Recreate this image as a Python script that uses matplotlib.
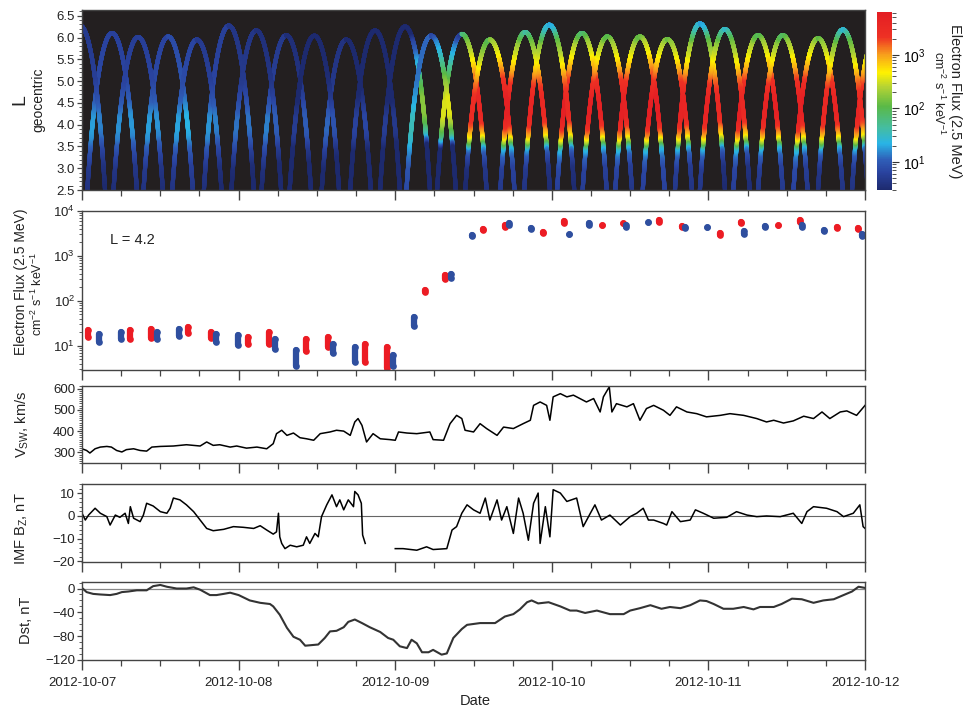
import numpy as np
import pandas as pd
import matplotlib
matplotlib.use("Agg")
import matplotlib.pyplot as plt
import matplotlib.dates as mdates
from matplotlib.colors import LinearSegmentedColormap, LogNorm
from matplotlib.ticker import MultipleLocator, LogLocator, NullFormatter, FormatStrFormatter

plt.rcParams['font.family'] = ['Liberation Sans', 'DejaVu Sans']
plt.rcParams['mathtext.fontset'] = 'custom'
plt.rcParams['mathtext.rm'] = 'Liberation Sans'
plt.rcParams['mathtext.it'] = 'Liberation Sans:italic'

start = pd.Timestamp('2012-10-07')
t0 = mdates.date2num(start.to_pydatetime())

# ---- orbit apogees (hours after 2012-10-07 00:00) and apogee L, probe A / probe B
apo_a_hr = [-0.3, 8.6, 17.6, 26.7, 35.6, 44.9, 53.5, 62.5, 71.6, 80.5, 89.7, 98.5, 107.4, 116.6, 125.6]
apo_a_L = [6.27, 6.01, 5.95, 6.16, 6.04, 6.16, 6.04, 5.95, 6.29, 6.02, 5.96, 6.19, 6.05, 6.18, 6.05]
apo_b_hr = [-4.4, 4.6, 13.2, 22.5, 31.3, 40.5, 49.5, 58.2, 67.9, 76.6, 85.5, 94.7, 103.6, 112.8, 121.8]
apo_b_L = [6.1, 6.1, 6.02, 6.27, 6.05, 5.95, 6.25, 6.08, 6.12, 6.1, 6.02, 6.32, 6.05, 5.98, 6.1]
PERIOD = 9.0
L_PERIGEE = 1.1

# radial flux profiles relative to the value at L = 4.2
quiet_L = [2.5, 3.0, 3.4, 3.7, 3.9, 4.2, 4.6, 5.0, 5.5, 6.0, 6.5]
quiet_rel = [0.2, 0.25, 0.45, 0.85, 1.0, 0.95, 0.55, 0.38, 0.35, 0.33, 0.33]
storm_L = [2.5, 3.0, 3.3, 3.45, 3.6, 3.75, 4.0, 4.2, 4.6, 5.0, 5.3, 5.6, 5.9, 6.2, 6.5]
storm_rel = [0.001, 0.0012, 0.0025, 0.005, 0.04, 0.18, 0.6, 1.0, 1.0, 0.45, 0.18, 0.08, 0.04, 0.008, 0.004]

# ---- electron flux at L = 4.2 (blue = probe A, red = probe B), low / high of each pass
blue_hr = [2.6, 6.0, 11.5, 14.9, 20.5, 23.9, 29.6, 32.8, 38.5, 41.8, 47.7, 50.9, 56.6, 59.8,
           65.4, 68.8, 74.6, 77.7, 83.4, 86.7, 92.4, 95.8, 101.5, 104.7, 110.3, 113.7, 119.5]
blue_lo = [12.1, 14.1, 14.1, 16.7, 11.9, 10.3, 8.7, 3.6, 7.0, 4.3, 3.6, 27.8, 330, 2770,
           5000, 3900, 3050, 5000, 4300, 5600, 4100, 4300, 3100, 4300, 4500, 3500, 2800]
blue_hi = [18.2, 20.1, 20.8, 23.4, 18.5, 17.0, 14.3, 7.9, 11.0, 9.3, 6.4, 44.8, 400, 2970,
           5300, 4100, 3150, 5300, 4800, 5800, 4300, 4500, 3500, 4600, 4800, 3800, 3000]
red_hr = [0.9, 7.4, 10.6, 16.2, 19.8, 25.4, 28.7, 34.3, 37.7, 43.4, 46.7, 52.6, 55.6, 61.5,
          64.8, 70.7, 73.9, 79.7, 82.9, 88.4, 92.0, 97.8, 101.0, 106.7, 110.0, 115.7, 118.9]
red_lo = [16.1, 14.1, 15.3, 19.8, 14.8, 10.9, 10.9, 7.7, 9.2, 4.3, 3.2, 158, 303, 3700,
          4500, 3200, 5500, 4800, 5300, 5800, 4400, 2900, 5300, 4800, 5800, 4100, 3900]
red_hi = [22.7, 22.7, 23.9, 26.0, 20.8, 16.1, 20.0, 14.3, 15.6, 11.0, 9.3, 176, 385, 3900,
          4800, 3400, 5900, 5000, 5500, 6200, 4600, 3300, 5600, 5000, 6300, 4400, 4200]

# ---- solar wind speed
vsw_hr = [0.0, 0.7, 1.2, 2.0, 2.8, 3.8, 4.5, 5.3, 6.1, 6.8, 7.9, 8.9, 9.9, 10.7, 12.0, 14.0, 16.0,
          18.1, 19.1, 20.1, 21.1, 22.7, 23.7, 25.2, 26.8, 28.3, 29.3, 29.8, 30.6, 31.4, 32.4, 33.4,
          34.4, 35.5, 36.5, 38.0, 39.0, 40.1, 41.1, 41.8, 42.3, 42.9, 43.6, 44.6, 45.7, 47.2, 48.0,
          48.5, 49.8, 51.3, 53.3, 53.8, 55.4, 56.4, 57.4, 58.2, 58.7, 60.0, 61.0, 62.0, 63.6, 64.6,
          66.1, 67.6, 68.7, 69.2, 70.2, 71.2, 71.7, 72.2, 73.3, 74.3, 75.3, 76.3, 77.3, 78.4, 79.4,
          79.9, 80.8, 81.2, 81.9, 83.5, 84.5, 85.5, 86.5, 87.6, 89.1, 90.1, 91.1, 92.7, 94.2, 95.7,
          97.8, 99.3, 101.4, 103.4, 104.9, 106.0, 107.5, 109.0, 110.6, 112.1, 113.4, 114.6, 116.2,
          117.2, 118.7, 120.0]
vsw = [317, 309, 297, 317, 325, 328, 325, 309, 302, 313, 317, 309, 306, 325, 328, 330, 336,
       330, 349, 333, 336, 325, 330, 320, 325, 317, 341, 388, 404, 380, 391, 369,
       364, 357, 388, 396, 404, 400, 380, 443, 459, 427, 349, 388, 364, 360, 357,
       396, 391, 388, 396, 360, 357, 435, 474, 459, 404, 396, 435, 412, 380, 419,
       412, 435, 451, 521, 537, 521, 451, 561, 576, 561, 569, 553, 537, 553, 490,
       561, 608, 490, 529, 514, 529, 451, 506, 521, 498, 474, 514, 490, 482, 467,
       474, 482, 474, 459, 443, 451, 438, 448, 470, 459, 490, 459, 490,
       495, 474, 521]

# ---- IMF Bz (NaN = data gap)
bz_hr = [0.0, 0.5, 1.0, 1.5, 2.0, 2.8, 3.8, 4.3, 5.1, 5.8, 6.6, 7.1, 7.4, 7.9, 8.9, 9.4, 9.9,
         10.9, 12.0, 13.0, 13.5, 14.0, 15.0, 16.0, 17.1, 18.1, 19.1, 20.1, 21.7, 23.2, 24.7, 26.3,
         27.3, 28.3, 29.3, 29.8, 30.1, 30.3, 30.6, 31.1, 31.9, 32.9, 33.9, 34.4, 34.9, 35.7, 36.2,
         36.7, 37.5, 38.3, 39.0, 39.5, 40.1, 40.8, 41.6, 41.8, 42.3, 42.8, 43.0, 43.4, 45.5,
         48.0, 49.2, 51.3, 52.8, 53.8, 55.9, 56.7, 57.4, 58.2, 59.0, 60.0, 61.0, 61.8, 62.5,
         63.6, 64.3, 65.1, 66.1, 66.9, 67.6, 68.4, 69.2, 69.9, 70.2, 71.0, 71.7, 72.2, 73.3, 74.3,
         75.8, 76.8, 77.9, 78.6, 79.6, 80.9, 82.5, 84.0, 85.0, 86.0, 86.8, 87.6, 89.1, 89.6, 90.4,
         91.7, 93.2, 94.0, 95.2, 96.8, 98.8, 100.3, 101.9, 103.4, 104.9, 107.0, 109.0, 110.3,
         111.1, 112.1, 114.1, 115.7, 116.7, 118.2, 119.2, 119.7, 120.0]
bz = [1.2, -1.8, 0.4, 1.9, 3.4, 1.2, -0.3, -4.0, 0.4, -0.6, 1.2, -3.3, 4.1, -1.0, -2.5, 0.4, 5.6,
      4.4, 1.9, 1.2, 3.4, 7.9, 7.1, 4.9, 1.9, -1.8, -5.5, -6.5, -5.9, -4.7, -5.0, -5.5,
      -4.3, -6.2, -8.0, -7.0, 1.2, -9.2, -12.1, -14.4, -12.9, -13.6, -12.9, -9.2, -12.1, -7.7, -9.2,
      -0.3, 4.9, 9.3, 4.1, 7.1, 2.7, 7.1, 4.1, 10.8, 9.3, 5.6, -8.4, -12.1, np.nan,
      -14.4, -14.4, -15.1, -13.6, -14.8, -14.4, -6.2, -4.7, 1.2, 4.9, 2.7, 1.2, 7.9, -1.8,
      7.1, -1.8, 4.1, -7.7, 7.9, 1.2, -10.7, 5.6, 10.1, -12.1, 4.1, -9.2, 11.6, 10.1, 6.4,
      7.9, -4.7, 1.2, 4.9, -1.8, 0.4, -4.0, -0.3, 1.2, 3.4, -1.8, -1.8, -3.3, -4.0, 1.9,
      -2.5, -1.8, 2.7, 1.2, -1.0, -0.6, 1.9, 0.4, -0.3, 0.0, -0.3, 1.2, -3.3,
      1.9, 4.1, 3.4, 1.9, -0.3, 1.2, 4.9, -4.7, -5.5]

# ---- Dst
dst_hr = [0.0, 0.7, 1.7, 2.8, 4.3, 5.3, 6.1, 7.1, 8.4, 9.9, 10.9, 12.0, 13.0, 14.5, 16.0, 17.1,
          18.1, 19.6, 20.6, 21.7, 22.7, 24.0, 25.7, 27.3, 28.8, 29.3, 30.3, 31.4, 32.4, 33.4, 34.2,
          35.2, 36.2, 37.2, 38.0, 39.0, 40.1, 40.8, 41.8, 42.9, 44.1, 45.7, 46.9, 47.7, 48.7, 49.8,
          50.5, 51.3, 52.1, 53.1, 53.8, 55.1, 55.9, 56.9, 58.2, 59.0, 61.0, 62.0, 63.3, 64.8, 66.1,
          67.1, 68.2, 68.9, 69.9, 71.5, 73.3, 74.8, 75.8, 77.1, 78.9, 80.9, 83.0, 84.0, 85.5, 87.1,
          88.8, 90.1, 91.7, 93.2, 94.7, 95.7, 96.8, 98.3, 99.8, 101.4, 102.9, 103.9, 106.0, 107.2,
          108.8, 110.3, 112.1, 113.6, 115.2, 116.7, 118.0, 119.0, 120.0]
dst = [1, -6, -9, -10, -11, -9, -6, -5, -3, -3, 4, 6, 3, 0, 0, 2,
       -2, -11, -11, -9, -7, -11, -20, -24, -26, -30, -44, -66, -81, -86, -96,
       -95, -94, -83, -72, -71, -65, -56, -52, -58, -65, -73, -83, -86, -97, -100,
       -86, -92, -107, -107, -103, -111, -109, -83, -68, -61, -58, -58, -58, -47, -43,
       -35, -23, -20, -25, -23, -30, -37, -37, -41, -37, -43, -43, -37, -33, -28,
       -34, -31, -33, -28, -20, -21, -26, -34, -34, -31, -35, -31, -31, -26,
       -17, -18, -24, -20, -18, -11, -5, 3, 1]


def hours_to_num(h):
    return t0 + np.asarray(h, dtype=float) / 24.0


def orbit(t_apo, L_apo, n=3000):
    a = (L_apo + L_PERIGEE) / 2
    e = (L_apo - L_PERIGEE) / (L_apo + L_PERIGEE)
    E = np.linspace(0, 2 * np.pi, n)
    r = a * (1 - e * np.cos(E))
    M = E - e * np.sin(E)
    t = t_apo + (M - np.pi) / (2 * np.pi) * PERIOD
    return t, r, E < np.pi


def leg_flux(t, L, hr, lo, hi):
    i = np.argmin(np.abs(L - 4.2))
    j = np.argmin(np.abs(np.array(hr) - t[i]))
    f42 = np.sqrt(lo[j] * hi[j])
    if f42 > 100:
        pl, pr = storm_L, storm_rel
    else:
        pl, pr = quiet_L, quiet_rel
    return f42 * 10 ** np.interp(L, pl, np.log10(pr))


cmap = LinearSegmentedColormap.from_list('flux', [
    (0.00, '#1d2a6e'), (0.10, '#2a44a0'), (0.17, '#2f5fb8'), (0.26, '#29b4e6'),
    (0.35, '#45bda0'), (0.47, '#5ab947'), (0.58, '#b5d334'), (0.66, '#fff200'),
    (0.76, '#f8a01c'), (0.86, '#ee3124'), (1.00, '#e31e24')])
norm = LogNorm(vmin=3, vmax=6300)

fig = plt.figure(figsize=(9.63, 7.08), dpi=100)
left, width = 0.0852, 0.8131
ax1 = fig.add_axes([left, 0.7316, width, 0.2542])
ax2 = fig.add_axes([left, 0.4774, width, 0.2246])
ax3 = fig.add_axes([left, 0.3460, width, 0.1088])
ax4 = fig.add_axes([left, 0.2062, width, 0.1102])
ax5 = fig.add_axes([left, 0.0678, width, 0.1102])
cax = fig.add_axes([0.9107, 0.7316, 0.0156, 0.2514])

# ---- panel 1: L vs time coloured by flux
ax1.set_facecolor('#231f20')
for apo_hr, apo_L, hr, lo, hi in [(apo_b_hr, apo_b_L, red_hr, red_lo, red_hi),
                                  (apo_a_hr, apo_a_L, blue_hr, blue_lo, blue_hi)]:
    for ta, La in zip(apo_hr, apo_L):
        t, r, rising = orbit(ta, La)
        for m in (rising, ~rising):
            tt, LL = t[m], r[m]
            f = leg_flux(tt, LL, hr, lo, hi)
            keep = LL > 2.4
            ax1.scatter(hours_to_num(tt[keep]), LL[keep], c=f[keep], cmap=cmap, norm=norm,
                        s=9, linewidths=0, zorder=2)
ax1.set_ylim(2.5, 6.63)
ax1.yaxis.set_major_locator(MultipleLocator(0.5))
ax1.yaxis.set_minor_locator(MultipleLocator(0.1))
ax1.yaxis.set_major_formatter(FormatStrFormatter('%.1f'))

cb = fig.colorbar(plt.cm.ScalarMappable(norm=norm, cmap=cmap), cax=cax)
cb.outline.set_visible(False)
cax.yaxis.set_major_locator(LogLocator(base=10, numticks=10))
cax.tick_params(which='major', length=5, width=0.8, labelsize=10, pad=3, color='#333')
cax.tick_params(which='minor', length=3, width=0.6, color='#333')

# ---- panel 2: flux at L = 4.2
for hr, lo, hi, col in [(red_hr, red_lo, red_hi, '#ec1c24'), (blue_hr, blue_lo, blue_hi, '#2f4f9f')]:
    for t, a, b in zip(hr, lo, hi):
        x = hours_to_num([t, t])
        ax2.plot(x, [a, b], '-o', color=col, lw=4.5, ms=4.8, mew=0, solid_capstyle='round')
ax2.set_yscale('log')
ax2.set_ylim(2.9, 1e4)
ax2.yaxis.set_major_locator(LogLocator(base=10, numticks=10))
ax2.yaxis.set_minor_locator(LogLocator(base=10, subs=np.arange(2, 10), numticks=10))
ax2.yaxis.set_minor_formatter(NullFormatter())
fig.text(0.114, 0.661, 'L = 4.2', fontsize=10.5, color='#222', va='center')

# ---- panel 3: solar wind speed
ax3.plot(hours_to_num(vsw_hr), vsw, color='black', lw=1.1)
ax3.set_ylim(250, 612)
ax3.yaxis.set_major_locator(MultipleLocator(100))
ax3.yaxis.set_minor_locator(MultipleLocator(10))

# ---- panel 4: IMF Bz
ax4.axhline(0, color='#666', lw=0.8)
ax4.plot(hours_to_num(bz_hr), bz, color='black', lw=1.1)
ax4.set_ylim(-20.3, 14.1)
ax4.yaxis.set_major_locator(MultipleLocator(10))
ax4.yaxis.set_minor_locator(MultipleLocator(2))

# ---- panel 5: Dst
ax5.axhline(0, color='#888', lw=0.9)
ax5.plot(hours_to_num(dst_hr), dst, color='#333', lw=1.5)
ax5.set_ylim(-120, 11)
ax5.yaxis.set_major_locator(MultipleLocator(40))
ax5.yaxis.set_minor_locator(MultipleLocator(10))

for ax in (ax1, ax2, ax3, ax4, ax5):
    ax.set_xlim(hours_to_num(0), hours_to_num(120))
    ax.xaxis_date()
    ax.xaxis.set_major_locator(mdates.DayLocator())
    ax.xaxis.set_minor_locator(mdates.HourLocator(byhour=[6, 12, 18]))
    ax.xaxis.set_major_formatter(mdates.DateFormatter('%Y-%m-%d'))
    ax.tick_params(axis='x', which='major', direction='out', length=7, width=1.0, color='#444',
                   labelsize=9.5, pad=5, labelcolor='#222')
    ax.tick_params(axis='x', which='minor', direction='out', length=4, width=0.9, color='#444')
    ax.tick_params(axis='y', which='major', direction='out', length=3.5, width=0.9, color='#444',
                   labelsize=9.5, pad=1.5, labelcolor='#222')
    ax.tick_params(axis='y', which='minor', direction='out', length=2, width=0.6, color='#444')
    for s in ax.spines.values():
        s.set_color('#444')
        s.set_linewidth(1.0)
    if ax is not ax5:
        ax.tick_params(axis='x', labelbottom=False)

# ---- labels
fig.text(0.0208, 0.859, 'L', rotation=90, fontsize=14, ha='center', va='center', color='#222')
fig.text(0.0395, 0.859, 'geocentric', rotation=90, fontsize=10, ha='center', va='center', color='#222')
fig.text(0.0218, 0.6017, 'Electron Flux (2.5 MeV)', rotation=90, fontsize=10, ha='center',
         va='center', color='#222')
fig.text(0.0385, 0.585, r'cm$^{-2}$ s$^{-1}$ keV$^{-1}$', rotation=90, fontsize=9, ha='center',
         va='center', color='#222')
fig.text(0.0228, 0.400, r'V$_{\mathrm{SW}}$, km/s', rotation=90, fontsize=10.5, ha='center',
         va='center', color='#222')
fig.text(0.0228, 0.253, r'IMF B$_{\mathrm{Z}}$, nT', rotation=90, fontsize=10.5, ha='center',
         va='center', color='#222')
fig.text(0.0270, 0.124, 'Dst, nT', rotation=90, fontsize=10.5, ha='center', va='center',
         color='#222')
fig.text(0.9914, 0.857, 'Electron Flux (2.5 MeV)', rotation=-90, fontsize=10.5, ha='center',
         va='center', color='#222')
fig.text(0.975, 0.868, r'cm$^{-2}$ s$^{-1}$ keV$^{-1}$', rotation=-90, fontsize=9, ha='center',
         va='center', color='#222')
fig.text(0.493, 0.0099, 'Date', fontsize=10.5, ha='center', va='center', color='#222')

fig.savefig('out.png', dpi=100)
